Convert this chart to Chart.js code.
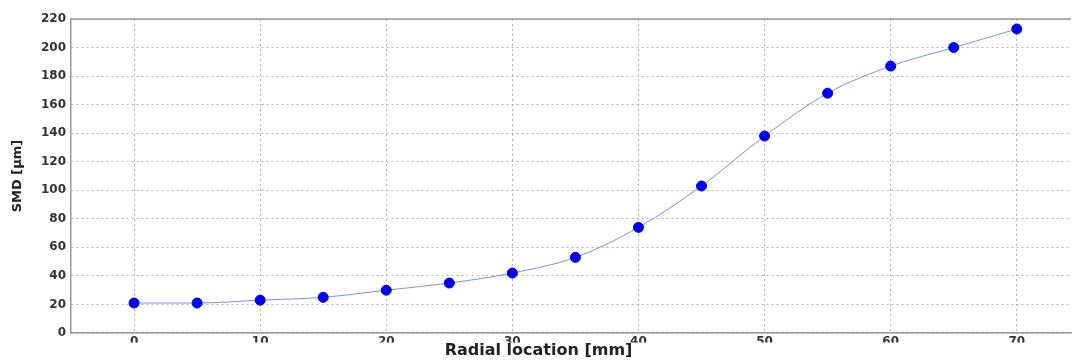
<!DOCTYPE html>
<html>
<head>
<meta charset="utf-8">
<script src="https://cdn.jsdelivr.net/npm/chart.js@4"></script>
<style>
  html, body { margin: 0; padding: 0; background: #fff; }
  #wrap { width: 1077px; height: 360px; }
</style>
</head>
<body>
<div id="wrap"><canvas id="smdChart" width="1077" height="360"></canvas></div>
<script>
const radialLocation = [0, 5, 10, 15, 20, 25, 30, 35, 40, 45, 50, 55, 60, 65, 70];
const smdValues = [21, 21, 23, 25, 30, 35, 42, 53, 74, 103, 138, 168, 187, 200, 213];
const xTicks = [0, 10, 20, 30, 40, 50, 60, 70];
const yTicks = [0, 20, 40, 60, 80, 100, 120, 140, 160, 180, 200, 220];

const points = radialLocation.map((x, i) => ({ x: x, y: smdValues[i] }));

const fontFamily = "'DejaVu Sans', Arial, sans-serif";
const tickFont = { family: fontFamily, size: 12, weight: "bold" };

// top border of the plot box (Chart.js only draws axis borders)
const boxTop = {
  id: "boxTop",
  afterDraw(chart) {
    const a = chart.chartArea, c = chart.ctx;
    c.save();
    c.strokeStyle = "#999";
    c.lineWidth = 1.5;
    c.beginPath();
    c.moveTo(a.left, a.top);
    c.lineTo(a.right, a.top);
    c.stroke();
    c.restore();
  }
};

new Chart(document.getElementById("smdChart").getContext("2d"), {
  type: "line",
  data: {
    datasets: [{
      data: points,
      borderColor: "#7f8fe8",
      borderWidth: 1,
      backgroundColor: "#0000ee",
      pointBackgroundColor: "#0000ee",
      pointBorderColor: "#0000ee",
      pointRadius: 5,
      pointHoverRadius: 5,
      cubicInterpolationMode: "monotone",
      fill: false
    }]
  },
  plugins: [boxTop],
  options: {
    responsive: false,
    animation: false,
    layout: { padding: { top: 19, right: 0, bottom: 0, left: 0 } },
    plugins: {
      legend: { display: false },
      tooltip: { enabled: false },
      title: {
        display: true,
        position: "bottom",
        text: "Radial location [mm]",
        color: "#222",
        font: { family: fontFamily, size: 16, weight: "bold", lineHeight: 1.1 },
        padding: { top: 0, bottom: 0 }
      }
    },
    scales: {
      x: {
        type: "linear",
        min: -5,
        max: 74.3,
        afterBuildTicks(axis) { axis.ticks = xTicks.map(v => ({ value: v })); },
        afterFit(axis) { axis.height = 9.4; },
        grid: {
          color: "#b4b4b4",
          drawTicks: false
        },
        border: { display: true, color: "#999", width: 1.5, dash: [2, 3] },
        ticks: { color: "#333", font: tickFont, padding: 2, maxRotation: 0 }
      },
      y: {
        min: 0,
        max: 220,
        afterBuildTicks(axis) { axis.ticks = yTicks.map(v => ({ value: v })); },
        afterFit(axis) { axis.width = 71; },
        grid: {
          color: "#b4b4b4",
          drawTicks: false
        },
        border: { display: true, color: "#999", width: 1.5, dash: [2, 3] },
        ticks: { color: "#333", font: tickFont, padding: 5 },
        title: {
          display: true,
          text: "SMD [µm]",
          color: "#222",
          font: { family: fontFamily, size: 13, weight: "bold" },
          padding: { top: 10, bottom: 0 }
        }
      }
    }
  }
});
</script>
</body>
</html>
